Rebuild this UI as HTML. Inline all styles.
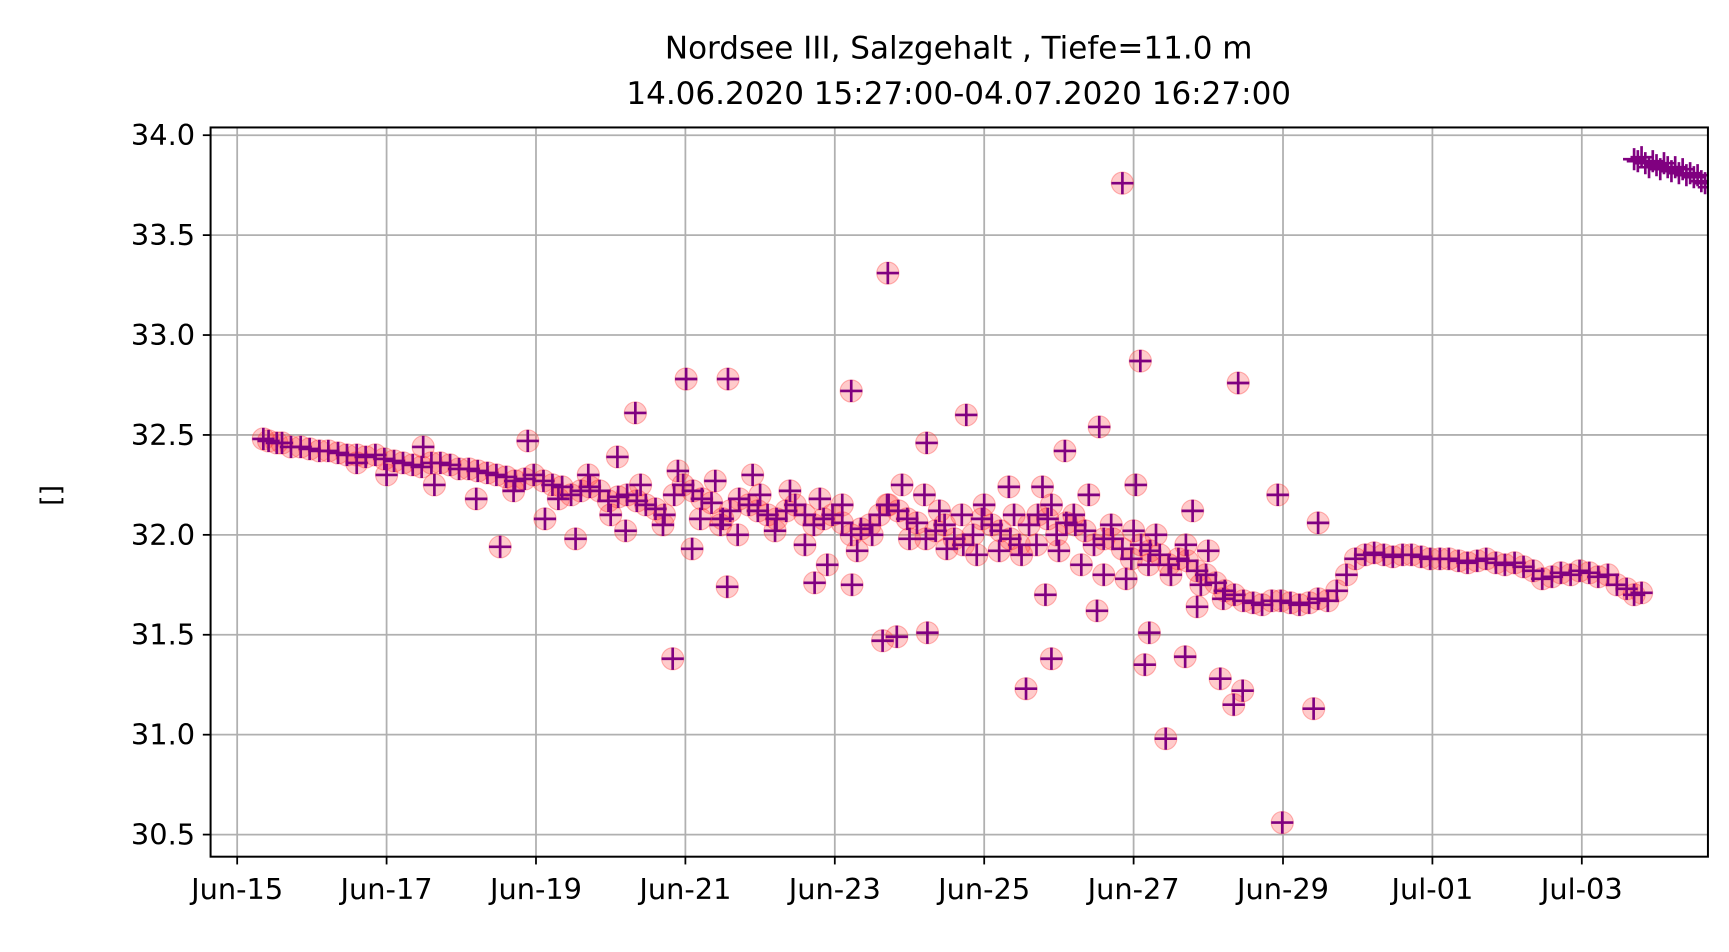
<!DOCTYPE html>
<html><head><meta charset="utf-8"><style>
html,body{margin:0;padding:0;background:#fff;}
svg{display:block;font-family:"DejaVu Sans","Liberation Sans",sans-serif;}
</style></head><body>
<svg id="chart" width="1729" height="952" viewBox="0 0 1560 859" preserveAspectRatio="none" xmlns="http://www.w3.org/2000/svg">
<defs><clipPath id="clip"><rect x="190" y="115" width="1351" height="658"/></clipPath></defs>
<text x="865" y="53" text-anchor="middle" font-size="28">Nordsee III, Salzgehalt , Tiefe=11.0 m</text>
<text x="865" y="94" text-anchor="middle" font-size="28">14.06.2020 15:27:00-04.07.2020 16:27:00</text>
<text transform="translate(54,447) rotate(-90)" text-anchor="middle" font-size="24">[]</text>
<g id="grid"></g>
<g id="marks" clip-path="url(#clip)"></g>
<rect x="190" y="115" width="1351" height="658" fill="none" stroke="#000" stroke-width="1.8"/>
<g id="axes"></g>
</svg>
<script>
const xTickLabels=["Jun-15","Jun-17","Jun-19","Jun-21","Jun-23","Jun-25","Jun-27","Jun-29","Jul-01","Jul-03"];
const xTickDays=[0,2,4,6,8,10,12,14,16,18];
const yTicks=[30.5,31.0,31.5,32.0,32.5,33.0,33.5,34.0];
const trendDays=[0.35,0.6,0.85,1.1,1.35,1.6,1.85,2.1,2.35,2.6,2.85,3.1,3.35,3.6,3.85,4.1,4.35,4.6,4.85,5.1,5.35,5.6,5.85,6.1,6.35,6.6,6.85,7.1,7.35,7.6,7.85,8.1,8.35,8.6,8.85,9.1,9.35,9.6,9.85,10.1,10.35,10.6,10.85,11.1,11.35,11.6,11.85,12.1,12.35,12.6,12.85,13.1,13.35,13.6,13.85,14.1,14.35,14.6,14.85,15.1,15.35,15.6,15.85,16.1,16.35,16.6,16.85,17.1,17.35,17.6,17.85,18.1,18.35,18.6,18.8];
const trendValues=[32.48,32.46,32.44,32.42,32.41,32.40,32.40,32.37,32.35,32.36,32.35,32.33,32.31,32.29,32.28,32.27,32.24,32.22,32.22,32.19,32.17,32.13,32.20,32.22,32.16,32.12,32.15,32.10,32.12,32.10,32.08,32.06,32.03,32.10,32.12,32.06,32.02,31.98,32.00,32.05,31.98,32.05,32.08,32.06,32.02,31.98,31.93,31.95,31.90,31.88,31.82,31.76,31.70,31.66,31.67,31.66,31.66,31.67,31.80,31.90,31.90,31.90,31.89,31.88,31.87,31.87,31.86,31.86,31.82,31.79,31.80,31.81,31.80,31.73,31.71];
const trend2Days=[0.42,0.53,0.72,0.97,1.22,1.47,1.72,1.97,2.22,2.47,2.72,2.97,3.22,3.47,3.72,3.97,4.22,4.47,4.72,4.97,5.22,5.47,5.72,5.97,6.22,6.47,6.72,6.97,7.22,7.47,7.72,7.97,8.22,8.47,8.72,8.97,9.22,9.47,9.72,9.97,10.22,10.47,10.72,10.97,11.22,11.47,11.72,11.97,12.22,12.47,12.72,12.97,13.22,13.47,13.72,13.97,14.22,14.47,14.72,14.97,15.22,15.47,15.72,15.97,16.22,16.47,16.72,16.97,17.22,17.47,17.72,17.97,18.22,18.47,18.7];
const trend2Values=[32.47,32.46,32.44,32.43,32.42,32.40,32.39,32.38,32.36,32.34,32.36,32.33,32.32,32.30,32.27,32.30,32.25,32.20,32.24,32.17,32.20,32.15,32.10,32.25,32.18,32.05,32.18,32.12,32.08,32.15,32.05,32.10,32.00,32.05,32.15,32.08,31.98,32.05,31.95,32.08,32.02,31.95,32.10,32.00,32.05,31.95,31.98,31.88,31.92,31.85,31.87,31.80,31.72,31.67,31.65,31.67,31.65,31.68,31.72,31.88,31.91,31.89,31.90,31.88,31.88,31.86,31.88,31.85,31.84,31.78,31.81,31.82,31.79,31.75,31.70];
const scatterDays=[4.3,4.7,5.0,5.4,5.7,5.9,6.2,6.4,6.7,6.9,7.0,7.2,7.4,7.6,7.8,7.9,8.1,8.3,8.5,8.7,8.9,9.0,9.2,9.4,9.5,9.7,9.9,10.0,10.2,10.4,10.5,10.7,10.9,11.0,11.2,11.3,11.4,11.6,11.7,11.9,12.0,12.2,12.3,12.5,12.7,12.9,13.0,13.2,3.2,3.7,2.0,1.6,5.2,6.5];
const scatterValues=[32.18,32.30,32.10,32.25,32.05,32.32,32.08,32.27,32.00,32.30,32.20,32.02,32.22,31.95,32.18,31.85,32.15,31.92,32.00,32.15,32.25,31.98,32.20,32.12,31.93,32.10,31.90,32.15,31.92,32.10,31.90,31.95,32.15,31.92,32.10,31.85,32.20,31.80,32.05,31.78,32.02,31.85,32.00,31.80,31.95,31.75,31.92,31.68,32.18,32.22,32.30,32.36,32.02,32.08];
const outlierDays=[11.85,8.71,12.09,6.01,6.57,8.22,13.4,5.33,9.76,11.54,3.89,9.23,11.08,2.49,5.09,13.93,14.47,3.52,4.53,4.12,6.09,6.56,7.73,8.23,5.83,8.64,8.83,9.24,10.56,10.9,10.82,11.51,12.21,12.15,12.43,12.69,13.16,13.34,13.46,13.99,14.41,12.03,12.79,12.85,2.64,10.78,10.33];
const outlierValues=[33.76,33.31,32.87,32.78,32.78,32.72,32.76,32.61,32.60,32.54,32.47,32.46,32.42,32.44,32.39,32.20,32.06,31.94,31.98,32.08,31.93,31.74,31.76,31.75,31.38,31.47,31.49,31.51,31.23,31.38,31.70,31.62,31.51,31.35,30.98,31.39,31.28,31.15,31.22,30.56,31.13,32.25,32.12,31.64,32.25,32.24,32.24];
const tailDays=[18.7,18.75,18.8,18.85,18.9,18.95,19.0,19.05,19.1,19.15,19.2,19.25,19.3,19.35,19.4,19.45,19.5,19.55,19.6,19.65,19.7];
const tailValues=[33.88,33.87,33.89,33.86,33.84,33.87,33.85,33.83,33.86,33.84,33.82,33.84,33.81,33.83,33.80,33.81,33.79,33.80,33.77,33.76,33.74];

const NS="http://www.w3.org/2000/svg";
const X=d=>214+d*67.4;
const Y=v=>122+(34.0-v)*180.3;
function mk(tag,attrs,parent){const e=document.createElementNS(NS,tag);for(const k in attrs)e.setAttribute(k,attrs[k]);parent.appendChild(e);return e;}
const grid=document.getElementById('grid'),axes=document.getElementById('axes'),marks=document.getElementById('marks');
xTickDays.forEach((d,i)=>{
  const gl=mk('line',{x1:X(d),x2:X(d),y1:115,y2:773,stroke:'#b0b0b0','stroke-width':1.6},grid);
  
  
  const t=mk('line',{x1:X(d),x2:X(d),y1:773,y2:780,stroke:'#000','stroke-width':1.6},axes);
  
  
  const lb=mk('text',{x:X(d),y:811,'text-anchor':'middle','font-size':26},axes);
  lb.textContent=xTickLabels[i];
  
  
});
yTicks.forEach(v=>{
  const gl=mk('line',{x1:190,x2:1541,y1:Y(v),y2:Y(v),stroke:'#b0b0b0','stroke-width':1.6},grid);
  
  
  const t=mk('line',{x1:183,x2:190,y1:Y(v),y2:Y(v),stroke:'#000','stroke-width':1.6},axes);
  
  
  const lb=mk('text',{x:176,y:Y(v)+9,'text-anchor':'end','font-size':26},axes);
  lb.textContent=v.toFixed(1);
  
  
});
const circleLayer=mk('g',{},marks);
const plusLayer=mk('g',{},marks);
function point(d,v,circle){
  const x=X(d),y=Y(v);
  if(circle){
    const c=mk('circle',{cx:x,cy:y,r:10,fill:'#ff3030','fill-opacity':0.25,stroke:'#ff3030','stroke-opacity':0.35,'stroke-width':1},circleLayer);
    
    
  }
  const p=mk('path',{d:`M${x-10},${y}H${x+10}M${x},${y-10}V${y+10}`,stroke:'#800080','stroke-width':2.4},plusLayer);
  
  
}
trendDays.forEach((d,i)=>point(d,trendValues[i],true));
trend2Days.forEach((d,i)=>point(d,trend2Values[i],true));
scatterDays.forEach((d,i)=>point(d,scatterValues[i],true));
outlierDays.forEach((d,i)=>point(d,outlierValues[i],true));
tailDays.forEach((d,i)=>point(d,tailValues[i],false));
</script>
</body></html>
